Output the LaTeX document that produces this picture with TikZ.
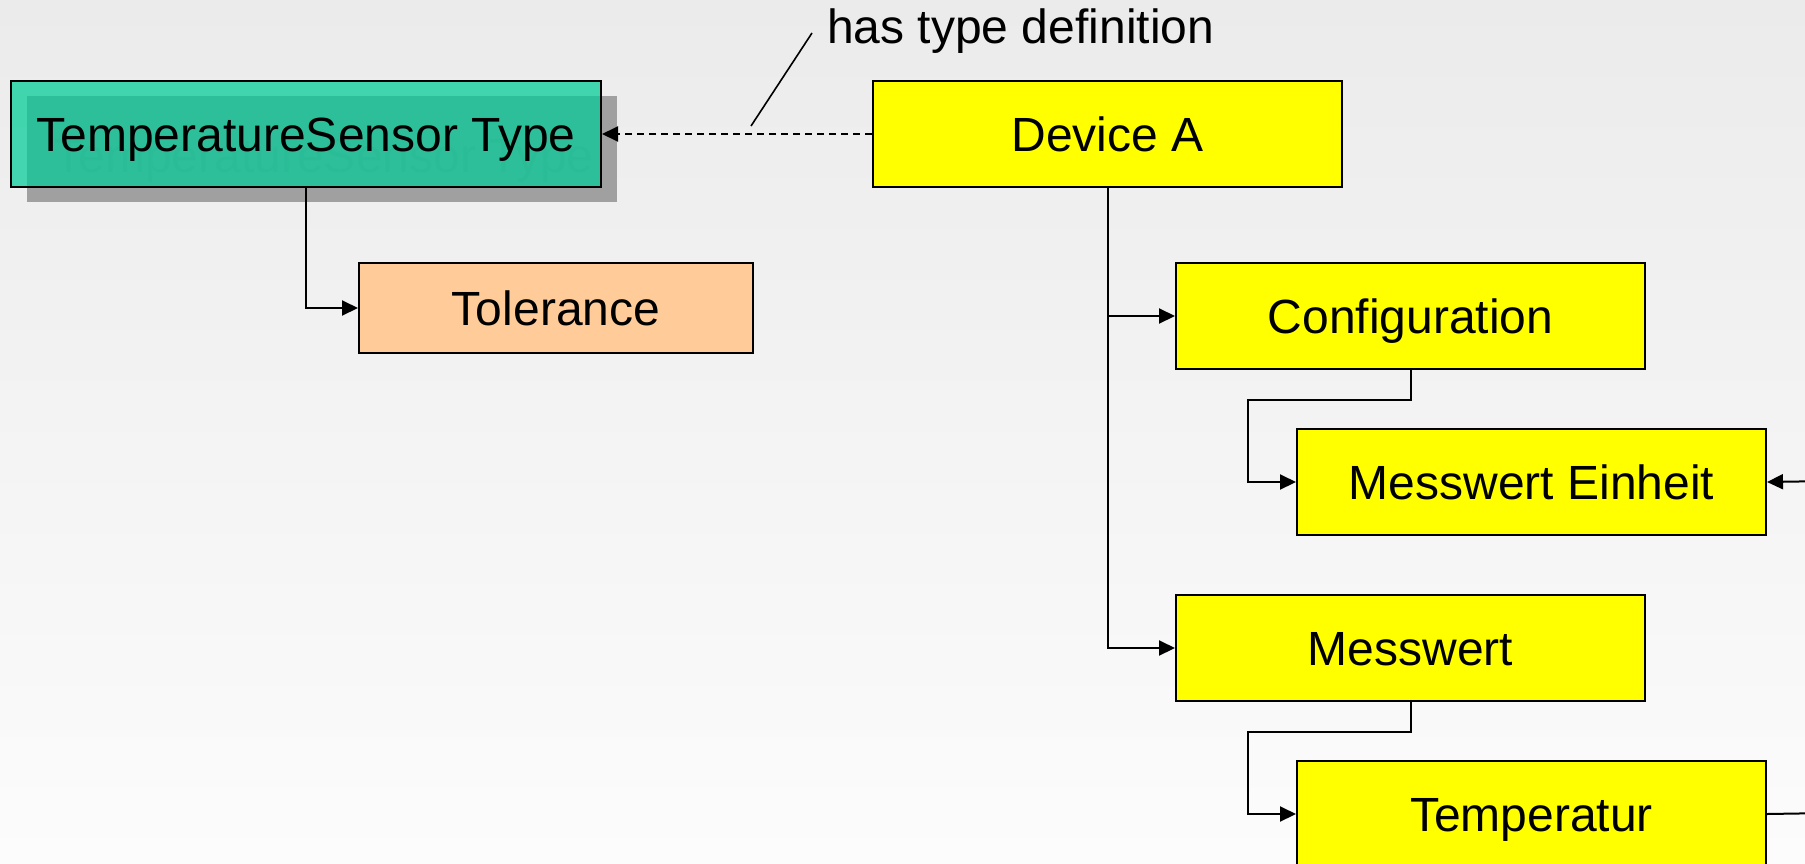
\documentclass[tikz,border=0pt]{standalone}
\usepackage{fontspec}
\setmainfont{Liberation Sans}
\usetikzlibrary{arrows.meta,calc}
\definecolor{bgtop}{HTML}{EBEBEB}
\definecolor{bgbot}{HTML}{FCFCFC}
\definecolor{shadowgray}{HTML}{A0A0A0}
\definecolor{tealfill}{HTML}{00CC97}
\definecolor{tolfill}{HTML}{FFCC99}
\definecolor{ghost}{HTML}{969696}
\definecolor{ybox}{HTML}{FFFF00}
\begin{document}
\begin{tikzpicture}[x=1pt,y=-1pt,
  bigfont/.style={font=\fontsize{48}{58}\selectfont},
  box/.style={draw=black,line width=2pt,inner sep=0pt,anchor=north west,bigfont,text height=34.4pt,text depth=0pt},
  ybox/.style={box,fill=ybox,minimum width=469pt,minimum height=106pt},
  conn/.style={line width=2pt,-{Triangle[length=16pt,width=15pt]}},
  plain/.style={line width=2pt}]
\useasboundingbox (0,0) rectangle (1805,863);
\clip (0,0) rectangle (1805,863);
\shade[top color=bgtop,bottom color=bgbot] (0,0) rectangle (1805,863);
% shadow of the type box
\fill[shadowgray] (27,96) rectangle (617,202);
\node[bigfont,text=ghost,inner sep=0pt,text height=34.4pt,text depth=0pt] (ghosttxt) at (324,155) {TemperatureSensor Type};
% nodes
\node[box,fill=tealfill,fill opacity=0.72,text opacity=1,minimum width=590pt,minimum height=106pt] (tst) at (10,80) {TemperatureSensor Type};
\node[box,fill=tolfill,minimum width=394pt,minimum height=90pt] (tol) at (358,262) {Tolerance};
\node[ybox] (devA) at (872,80) {Device A};
\node[ybox] (cfg) at (1175,262) {Configuration};
\node[ybox] (me) at (1296,428) {Messwert Einheit};
\node[ybox] (mw) at (1175,594) {Messwert};
\node[ybox] (tmp) at (1296,760) {Temperatur};
% label
\node[bigfont,anchor=base west,inner sep=0pt] (lbl) at (827,43) {has type definition};
\coordinate (leadA) at (751,126);
\coordinate (leadB) at (812,33);
\draw[line width=1.6pt] (leadA) -- (leadB);
% connectors
\draw[conn] (tst.south) |- (tol.west);
\draw[conn,dash pattern=on 7pt off 5pt] (devA.west) -- (tst.east);
\draw[conn] (devA.south) |- (cfg.west);
\draw[conn] (devA.south) |- (mw.west);
\draw[conn] (cfg.south) -- ++(0,30) -| ($(me.west)+(-48,0)$) -- (me.west);
\draw[conn] (mw.south) -- ++(0,30) -| ($(tmp.west)+(-48,0)$) -- (tmp.west);
\coordinate (meIn) at (1830,481);
\draw[conn] (meIn) -- (me.east);
\coordinate (tmpOut) at (1830,813);
\draw[plain] (tmp.east) -- (tmpOut);
\end{tikzpicture}
\end{document}
